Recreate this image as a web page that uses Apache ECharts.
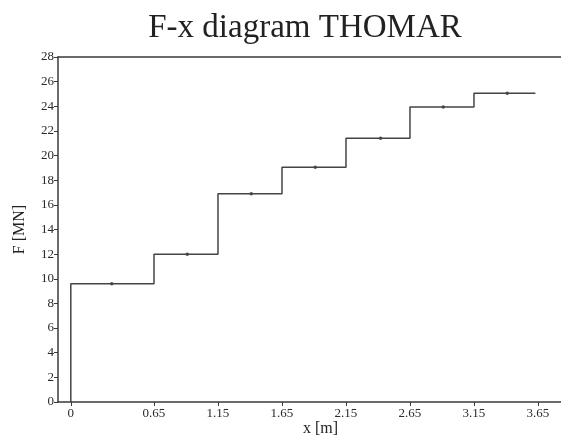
<!DOCTYPE html>
<html>
<head>
<meta charset="utf-8">
<script src="https://cdn.jsdelivr.net/npm/echarts@6/dist/echarts.min.js"></script>
<style>
  html, body { margin: 0; padding: 0; background: #fff; }
  #main { width: 561px; height: 438px; }
</style>
</head>
<body>
<div id="main"></div>
<script>
// step edges along x [m] and force level on each step [MN]
var stepX = [0, 0.65, 1.15, 1.65, 2.15, 2.65, 3.15, 3.63];
var levels = [9.6, 12.0, 16.9, 19.05, 21.4, 23.95, 25.05];
// marked points in the middle of every step
var dotX = [0.32, 0.91, 1.41, 1.91, 2.42, 2.91, 3.41];
var xTicks = [0, 0.65, 1.15, 1.65, 2.15, 2.65, 3.15, 3.65];

var stepLine = [[stepX[0], 0]];
for (var i = 0; i < levels.length; i++) {
    stepLine.push([stepX[i], levels[i]]);
    stepLine.push([stepX[i + 1], levels[i]]);
}
var dots = dotX.map(function (x, i) { return [x, levels[i]]; });

var serif = 'Liberation Serif';
var ink = '#3a3a3a';

var myChart = echarts.init(document.getElementById('main'));
myChart.setOption({
    animation: false,
    title: {
        text: 'F-x diagram THOMAR',
        left: 300,
        textAlign: 'center',
        top: 7,
        textStyle: { fontFamily: serif, fontSize: 33, fontWeight: 'normal', color: '#222' }
    },
    grid: { left: 58, right: 0, top: 57, bottom: 36, outerBoundsMode: 'none', containLabel: false },
    xAxis: [{
        type: 'value',
        min: -0.1,
        max: 3.83,
        name: 'x [m]',
        nameLocation: 'middle',
        nameGap: 19,
        nameMoveOverlap: false,
        nameTextStyle: { fontFamily: serif, fontSize: 16, color: '#222', padding: [0, 0, 0, 22] },
        splitLine: { show: false },
        axisLine: { onZero: false, lineStyle: { color: ink, width: 1.5 } },
        axisTick: { customValues: xTicks, length: 4, lineStyle: { color: ink } },
        axisLabel: {
            customValues: xTicks,
            fontFamily: serif, fontSize: 13, color: '#2a2a2a', margin: 5,
            formatter: function (v) { return v === 0 ? '0' : v.toFixed(2); }
        }
    }, {
        // top border line
        type: 'value', position: 'top',
        min: -0.1, max: 3.83,
        axisLine: { show: true, onZero: false, lineStyle: { color: ink, width: 1.5 } },
        axisTick: { show: false }, axisLabel: { show: false }, splitLine: { show: false }
    }],
    yAxis: {
        type: 'value',
        min: 0,
        max: 28,
        interval: 2,
        name: 'F [MN]',
        nameLocation: 'middle',
        nameGap: 30,
        nameMoveOverlap: false,
        nameTextStyle: { fontFamily: serif, fontSize: 16, color: '#222' },
        splitLine: { show: false },
        axisLine: { show: true, onZero: false, lineStyle: { color: ink, width: 1.5 } },
        axisTick: { show: true, length: 4, lineStyle: { color: ink } },
        axisLabel: { fontFamily: serif, fontSize: 13, color: '#2a2a2a', margin: 4 }
    },
    series: [{
        type: 'line',
        data: stepLine,
        symbol: 'none',
        lineStyle: { color: '#444', width: 1.5 }
    }, {
        type: 'scatter',
        data: dots,
        symbolSize: 3.5,
        itemStyle: { color: '#222' }
    }]
});
</script>
</body>
</html>
